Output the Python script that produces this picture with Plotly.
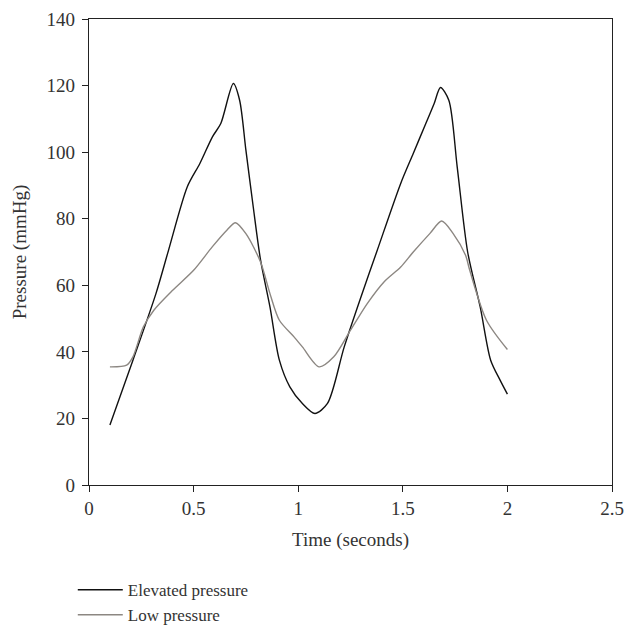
"""Pressure traces over two cardiac cycles: elevated vs low pressure."""

import plotly.graph_objects as go


# elevated pressure trace (black)
ELEV_T = [0.10, 0.21, 0.32, 0.38, 0.47, 0.53, 0.59, 0.63, 0.69, 0.72, 0.75, 0.785,
          0.82, 0.865, 0.91, 0.96, 1.02, 1.08, 1.14, 1.22, 1.30, 1.375, 1.49, 1.55,
          1.61, 1.65, 1.68, 1.72, 1.76, 1.81, 1.87, 1.92, 1.965, 2.0]
ELEV_P = [18, 37.5, 57.5, 70.5, 89.6, 96.6, 104.6, 108.6, 120.6, 115.6, 100.6, 83.6,
          67.6, 53.5, 37.5, 29.5, 24.5, 21.5, 24.5, 41.5, 56.5, 70.0, 90.6, 99.6,
          108.6, 114.6, 119.4, 115.6, 95.6, 70.0, 53.5, 37.5, 31.5, 27.3]

# low pressure trace (grey)
LOW_T = [0.10, 0.18, 0.21, 0.26, 0.31, 0.40, 0.50, 0.59, 0.66, 0.70, 0.75, 0.82,
         0.865, 0.91, 0.98, 1.02, 1.10, 1.17, 1.25, 1.33, 1.41, 1.49, 1.55, 1.63,
         1.686, 1.74, 1.80, 1.82, 1.90, 2.0]
LOW_P = [35.5, 36, 38.5, 47.5, 52.5, 58.5, 64.5, 71.6, 76.6, 78.8, 75.5, 67.0,
         57.5, 49.5, 44.5, 41.5, 35.5, 38.5, 46.5, 54.5, 61, 65.5, 70.0, 75.6,
         79.3, 75.6, 69.0, 64.5, 49.5, 40.7]

X_TICKS = [0, 0.5, 1, 1.5, 2, 2.5]
Y_TICKS = [0, 20, 40, 60, 80, 100, 120, 140]

FONT = "Liberation Serif, DejaVu Serif, serif"
TEXT_COLOR = '#333333'
FONT_SIZE = 19


def build_figure():
    fig = go.Figure()
    fig.add_trace(go.Scatter(
        x = ELEV_T, y = ELEV_P, mode = 'lines', name = 'Elevated pressure',
        line = dict(color = '#111111', width = 1.4, shape = 'spline', smoothing = 0.8),
    ))
    fig.add_trace(go.Scatter(
        x = LOW_T, y = LOW_P, mode = 'lines', name = 'Low pressure',
        line = dict(color = '#8c8782', width = 1.4, shape = 'spline', smoothing = 0.8),
    ))

    axis_common = dict(
        showline = True, linecolor = '#222222', linewidth = 1.3, mirror = True,
        ticks = 'outside', ticklen = 6, tickwidth = 1.3, tickcolor = '#222222',
        showgrid = False, zeroline = False, automargin = False,
        tickfont = dict(family = FONT, size = FONT_SIZE, color = TEXT_COLOR),
    )
    fig.update_layout(
        width = 627, height = 627,
        margin = dict(l = 89, r = 15, t = 19, b = 142, autoexpand = False),
        paper_bgcolor = 'white', plot_bgcolor = 'white',
        font = dict(family = FONT, size = FONT_SIZE, color = TEXT_COLOR),
        xaxis = dict(
            range = [0, 2.5], tickvals = X_TICKS, ticktext = [str(v) for v in X_TICKS],
            title = dict(text = 'Time (seconds)', standoff = 14,
                         font = dict(family = FONT, size = FONT_SIZE, color = TEXT_COLOR)),
            **axis_common,
        ),
        yaxis = dict(
            range = [0, 140], tickvals = Y_TICKS, ticklabelstandoff = 3,
            title = dict(text = 'Pressure (mmHg)', standoff = 14,
                         font = dict(family = FONT, size = FONT_SIZE, color = TEXT_COLOR)),
            **axis_common,
        ),
        showlegend = True,
        legend = dict(
            x = -0.031, y = -0.187, xanchor = 'left', yanchor = 'top',
            bgcolor = 'rgba(0,0,0,0)', tracegroupgap = 0, itemwidth = 45,
            font = dict(family = FONT, size = 17, color = TEXT_COLOR),
        ),
    )
    return fig


def main():
    fig = build_figure()
    # drop the browser's default body margin so the figure sits at the page origin
    fig.write_html("out.html", config = {'displayModeBar': False},
                   post_script = "document.body.style.margin = '0';")


if __name__ == '__main__':
    main()
